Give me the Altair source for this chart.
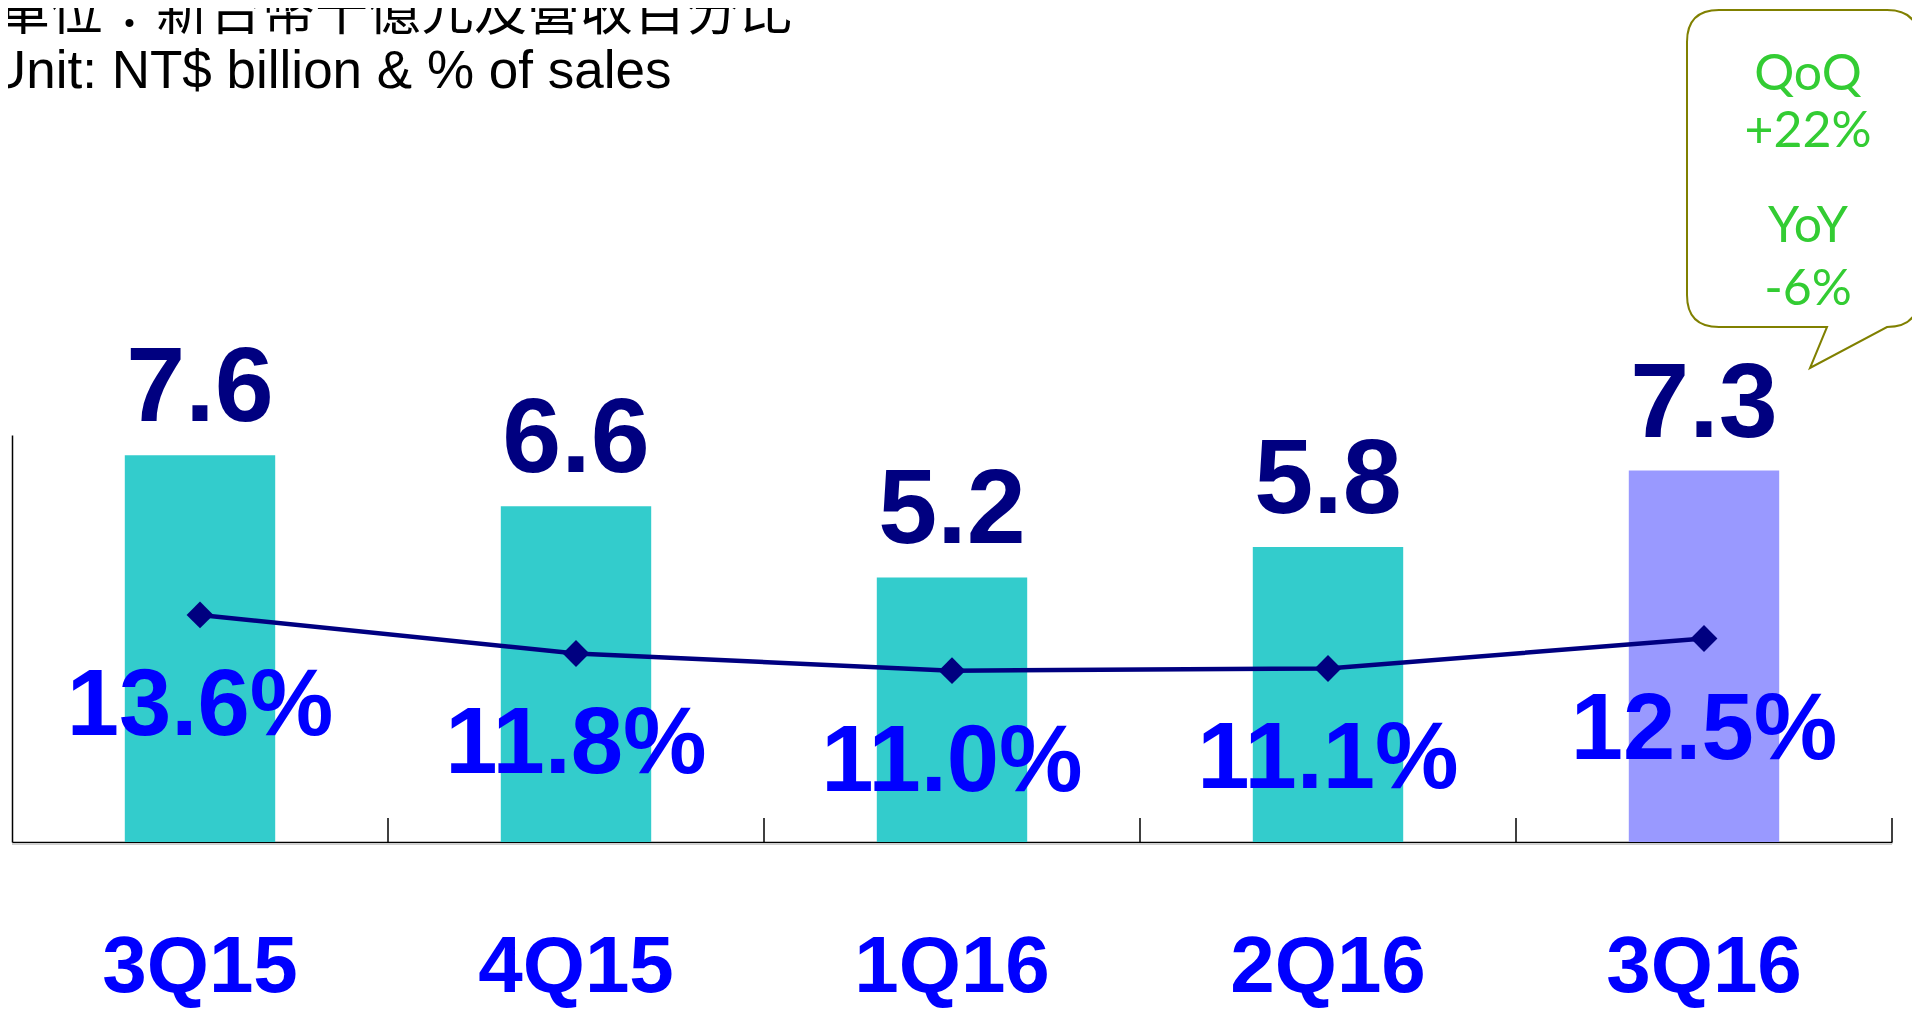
import altair as alt
import pandas as pd

quarters = ["3Q15", "4Q15", "1Q16", "2Q16", "3Q16"]
revenue = [7.6, 6.6, 5.2, 5.8, 7.3]          # NT$ billion
pct_sales = [13.6, 11.8, 11.0, 11.1, 12.5]   # % of sales
bar_labels = ["7.6", "6.6", "5.2", "5.8", "7.3"]
pct_labels = ["13.6%", "11.8%", "11.0%", "11.1%", "12.5%"]
title_lines = ["單位：新台幣十億元及營收百分比", "Unit: NT$ billion & % of sales"]
callout_lines = ["QoQ", "+22%", "YoY", "-6%"]

df = pd.DataFrame({"q": quarters, "rev": revenue, "pct": pct_sales,
                   "rl": bar_labels, "pl": pct_labels})

W, H = 1880, 407
NAVY = "#000080"
BLUE = "#0000FF"
NUMFONT = "Liberation Sans"

xs = alt.X("q:N", sort=quarters, scale=alt.Scale(paddingInner=0, paddingOuter=0),
           axis=alt.Axis(labels=False, ticks=False, title=None, grid=False,
                         domainColor="black", domainWidth=1.5))
x_plain = alt.X("q:N", sort=quarters)
y_bar = alt.Y("rev:Q", scale=alt.Scale(domain=[0, 8]),
              axis=alt.Axis(labels=False, ticks=False, title=None, grid=False,
                            domainColor="black", domainWidth=1.5))
y_bar_noaxis = alt.Y("rev:Q", scale=alt.Scale(domain=[0, 8]), axis=None)
y_pct = alt.Y("pct:Q", scale=alt.Scale(domain=[3, 22]), axis=None)

base = alt.Chart(df)

bars = base.mark_bar(width=alt.RelativeBandSize(0.4)).encode(
    x=xs, y=y_bar,
    color=alt.condition(alt.datum.q == "3Q16", alt.value("#9999FF"), alt.value("#33CCCC")),
)

bar_text = base.mark_text(font=NUMFONT, fontWeight="bold", fontSize=106, color=NAVY,
                          baseline="alphabetic", dy=-34).encode(
    x=x_plain, y=y_bar_noaxis, text="rl:N")

ticks = base.mark_rule(color="black", strokeWidth=1.5).encode(
    x=alt.X("q:N", sort=quarters, bandPosition=1),
    y=alt.value(H - 24), y2=alt.value(H))

shadow = alt.Chart(pd.DataFrame({"a": [0]})).mark_rule(color="#d0d0d0", strokeWidth=2).encode(
    x=alt.value(0), x2=alt.value(W), y=alt.value(H + 2))

line = base.mark_line(color=NAVY, strokeWidth=4.5).encode(x=x_plain, y=y_pct)
pts = base.mark_point(shape="diamond", size=720, filled=True, color=NAVY, opacity=1).encode(
    x=x_plain, y=y_pct)
pct_text = base.mark_text(font=NUMFONT, fontWeight="bold", fontSize=94, color=BLUE,
                          baseline="alphabetic", dy=120).encode(
    x=x_plain, y=y_pct, text="pl:N")

cat_text = base.mark_text(font=NUMFONT, fontWeight="bold", fontSize=80, color=BLUE,
                          baseline="alphabetic").encode(
    x=x_plain, y=alt.value(H + 150), text="q:N")

one = pd.DataFrame({"a": [0]})
title1 = alt.Chart(pd.DataFrame({"t": [title_lines[0]]})).mark_text(
    font="Noto Sans CJK TC", fontSize=53, align="left", baseline="alphabetic", color="black"
).encode(x=alt.value(-15), y=alt.value(-405), text="t:N")
title2 = alt.Chart(pd.DataFrame({"t": [title_lines[1]]})).mark_text(
    font="Liberation Sans", fontSize=53, align="left", baseline="alphabetic", color="black"
).encode(x=alt.value(-24), y=alt.value(-347), text="t:N")

callout_path = ("M1707,-425 L1875,-425 Q1907,-425 1907,-393 L1907,-140 "
                "Q1907,-108 1875,-108 L1798,-67 L1815,-108 L1707,-108 "
                "Q1675,-108 1675,-140 L1675,-393 Q1675,-425 1707,-425 Z")
callout = alt.Chart(one).mark_point(shape=callout_path, size=4, filled=True,
                                    fill="white", stroke="#808000", strokeWidth=2,
                                    opacity=1).encode(x=alt.value(0), y=alt.value(0))

callout_texts = []
for t, yy in zip(callout_lines, [-345, -288, -193, -130]):
    callout_texts.append(
        alt.Chart(pd.DataFrame({"t": [t]})).mark_text(
            font="Lato", fontSize=50, align="center", baseline="alphabetic", color="#33CC33"
        ).encode(x=alt.value(1796), y=alt.value(yy), text="t:N"))

chart = alt.layer(
    bars, shadow, ticks, line, pts, bar_text, pct_text, cat_text, title1, title2, callout,
    *callout_texts
).resolve_scale(y="independent").properties(
    width=W, height=H,
    autosize=alt.AutoSizeParams(type="none"),
    padding={"left": 4, "top": 427, "right": 20, "bottom": 166},
    background="white",
).configure_view(stroke=None)

chart.save("out.html", embed_options={"renderer": "svg", "actions": False})
